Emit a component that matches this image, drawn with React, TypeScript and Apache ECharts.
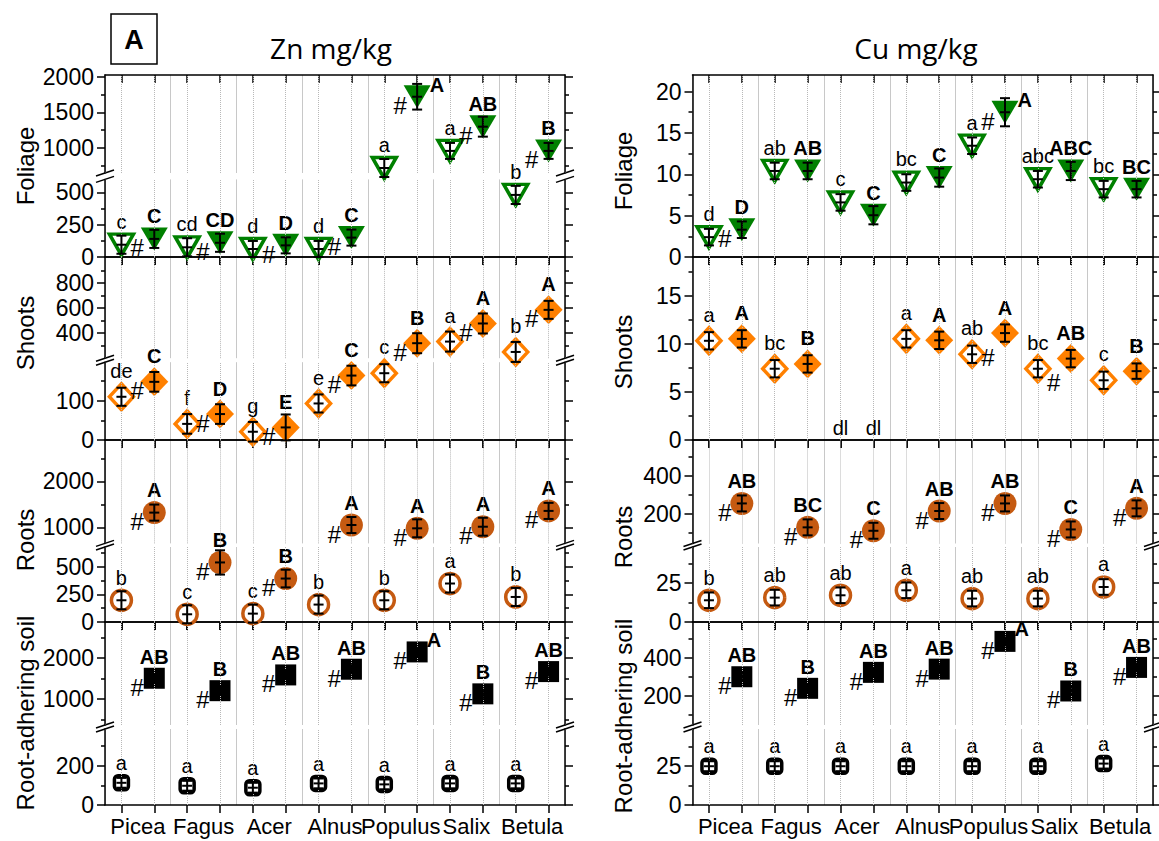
import React, { useEffect, useRef } from "react";
import * as echarts from "echarts";

// ---------------- DATA ----------------
const species = ["Picea", "Fagus", "Acer", "Alnus", "Populus", "Salix", "Betula"];

// Zn – Foliage
const znFoliageOpen = [95, 75, 62, 62, 720, 960, 480];
const znFoliageOpenErr = [70, 70, 62, 62, 126, 112, 70];
const znFoliageFilled = [140, 110, 90, 150, 1720, 1300, 960];
const znFoliageFilledErr = [70, 70, 62, 62, 180, 140, 112];
const znFoliageOpenLetters = ["c", "cd", "d", "d", "a", "a", "b"];
const znFoliageFilledLetters = ["C", "CD", "D", "C", "A", "AB", "B"];
const znFoliageHash = [true, true, true, true, true, true, true];
const znFoliageLowerRange = [0, 600];
const znFoliageLowerTicks = [0, 250, 500];
const znFoliageLowerMinor = [125, 375];
const znFoliageUpperRange = [650, 2025];
const znFoliageUpperTicks = [1000, 1500, 2000];
const znFoliageUpperMinor = [750, 1250, 1750];

// Zn – Shoots
const znShootsOpen = [110, 41, 21, 93, 170, 333, 250];
const znShootsOpenErr = [23, 25, 25, 23, 23, 80, 80];
const znShootsFilled = [148, 66, 32, 164, 320, 478, 587];
const znShootsFilledErr = [25, 25, 33, 25, 80, 80, 72];
const znShootsOpenLetters = ["de", "f", "g", "e", "c", "a", "b"];
const znShootsFilledLetters = ["C", "D", "E", "C", "B", "A", "A"];
const znShootsHash = [true, true, true, true, true, true, true];
const znShootsLowerRange = [0, 198];
const znShootsLowerTicks = [0, 100];
const znShootsLowerMinor = [50, 150];
const znShootsUpperRange = [200, 1010];
const znShootsUpperTicks = [400, 600, 800];
const znShootsUpperMinor = [300, 500, 700, 900];

// Zn – Roots
const znRootsOpen = [197, 70, 76, 158, 197, 349, 227];
const znRootsOpenErr = [82, 82, 82, 82, 82, 82, 82];
const znRootsFilled = [1320, 540, 394, 1050, 978, 1013, 1357];
const znRootsFilledErr = [175, 110, 80, 175, 195, 195, 175];
const znRootsOpenLetters = ["b", "c", "c", "b", "b", "a", "b"];
const znRootsFilledLetters = ["A", "B", "B", "A", "A", "A", "A"];
const znRootsHash = [true, true, true, true, true, true, true];
const znRootsLowerRange = [0, 680];
const znRootsLowerTicks = [0, 250, 500];
const znRootsLowerMinor = [125, 375, 625];
const znRootsUpperRange = [650, 2900];
const znRootsUpperTicks = [1000, 2000];
const znRootsUpperMinor = [1500, 2500];

// Zn – Root-adhering soil
const znSoilOpen = [113, 98, 88, 110, 105, 110, 110];
const znSoilOpenErr = [25, 25, 25, 25, 25, 25, 25];
const znSoilFilled = [1508, 1203, 1590, 1730, 2155, 1125, 1672];
const znSoilFilledErr = [100, 100, 100, 100, 100, 100, 100];
const znSoilOpenLetters = ["a", "a", "a", "a", "a", "a", "a"];
const znSoilFilledLetters = ["AB", "B", "AB", "AB", "A", "B", "AB"];
const znSoilHash = [true, true, true, true, true, true, true];
const znSoilLowerRange = [0, 387];
const znSoilLowerTicks = [0, 200];
const znSoilLowerMinor = [100, 300];
const znSoilUpperRange = [360, 2890];
const znSoilUpperTicks = [1000, 2000];
const znSoilUpperMinor = [500, 1500, 2500];

// Cu – Foliage
const cuFoliageOpen = [2.4, 10.4, 6.6, 9.0, 13.45, 9.4, 8.2];
const cuFoliageOpenErr = [1.0, 1.0, 1.0, 1.0, 1.0, 1.0, 1.0];
const cuFoliageFilled = [3.3, 10.4, 5.05, 9.6, 17.5, 10.4, 8.2];
const cuFoliageFilledErr = [1.0, 1.0, 1.1, 1.1, 1.7, 1.1, 1.0];
const cuFoliageOpenLetters = ["d", "ab", "c", "bc", "a", "abc", "bc"];
const cuFoliageFilledLetters = ["D", "AB", "C", "C", "A", "ABC", "BC"];
const cuFoliageHash = [true, false, false, false, true, false, false];
const cuFoliageRange = [0, 22];
const cuFoliageTicks = [0, 5, 10, 15, 20];
const cuFoliageMinor = [2.5, 7.5, 12.5, 17.5];

// Cu – Shoots (Acer below detection limit)
const cuShootsOpen = [10.3, 7.4, null, 10.5, 8.9, 7.4, 6.2];
const cuShootsOpenErr = [0.9, 0.9, 0, 0.9, 0.9, 0.9, 0.9];
const cuShootsFilled = [10.5, 7.9, null, 10.35, 11.1, 8.45, 7.15];
const cuShootsFilledErr = [0.9, 0.9, 0, 0.9, 0.9, 0.9, 0.8];
const cuShootsOpenLetters = ["a", "bc", "", "a", "ab", "bc", "c"];
const cuShootsFilledLetters = ["A", "B", "", "A", "A", "AB", "B"];
const cuShootsHash = [false, false, false, false, true, true, false];
const cuShootsBelowDl = [false, false, true, false, false, false, false];
const cuShootsRange = [0, 19];
const cuShootsTicks = [0, 5, 10, 15];
const cuShootsMinor = [2.5, 7.5, 12.5, 17.5];

// Cu – Roots
const cuRootsOpen = [13.9, 15.6, 17.1, 20.3, 15, 15, 22.4];
const cuRootsOpenErr = [5, 5, 5, 5, 5, 5, 5];
const cuRootsFilled = [256, 130, 112, 216, 256, 119, 230];
const cuRootsFilledErr = [42, 42, 42, 42, 42, 42, 42];
const cuRootsOpenLetters = ["b", "ab", "ab", "a", "ab", "ab", "a"];
const cuRootsFilledLetters = ["AB", "BC", "C", "AB", "AB", "C", "A"];
const cuRootsHash = [true, true, true, true, true, true, true];
const cuRootsLowerRange = [0, 48];
const cuRootsLowerTicks = [0, 25];
const cuRootsLowerMinor = [12.5, 37.5];
const cuRootsUpperRange = [45, 590];
const cuRootsUpperTicks = [200, 400];
const cuRootsUpperMinor = [100, 300, 500];

// Cu – Root-adhering soil
const cuSoilOpen = [25, 25, 25, 25, 25, 25, 26.7];
const cuSoilOpenErr = [3.2, 3.2, 3.2, 3.2, 3.2, 3.2, 3.2];
const cuSoilFilled = [300, 239, 323, 340, 486, 225, 349];
const cuSoilFilledErr = [21, 21, 21, 21, 21, 21, 21];
const cuSoilOpenLetters = ["a", "a", "a", "a", "a", "a", "a"];
const cuSoilFilledLetters = ["AB", "B", "AB", "AB", "A", "B", "AB"];
const cuSoilHash = [true, true, true, true, true, true, true];
const cuSoilLowerRange = [0, 49];
const cuSoilLowerTicks = [0, 25];
const cuSoilLowerMinor = [12.5, 37.5];
const cuSoilUpperRange = [46, 588];
const cuSoilUpperTicks = [200, 400];
const cuSoilUpperMinor = [100, 300, 500];

// ---------------- STYLE / LAYOUT ----------------
const FONT = "'Liberation Sans', Arial, Helvetica, sans-serif";
const GREEN = "#008000";
const ORANGE = "#FF8000";
const BROWN = "#C55A11";
const BLACK = "#000000";
const TRI_DOWN = "path://M0,0 L24,0 L12,21 Z";

const FOLIAGE_STYLE = { symbol: TRI_DOWN, filledSymbol: TRI_DOWN, openSize: [24, 21], filledSize: [27, 23], color: GREEN, openBorder: 3.5 };
const SHOOTS_STYLE = { symbol: "diamond", filledSymbol: "diamond", openSize: [24, 26], filledSize: [28, 29], color: ORANGE, openBorder: 3.5 };
const ROOTS_STYLE = { symbol: "circle", filledSymbol: "circle", openSize: [20, 20], filledSize: [23, 23], color: BROWN, openBorder: 3.5 };
const SOIL_STYLE = { symbol: "roundRect", filledSymbol: "rect", openSize: [14, 14], filledSize: [21, 21], color: BLACK, openBorder: 3.5 };

const PANEL_LAYOUT = [
  { left: 105, right: 565, nameX: 25, titleX: 331, nameY: [166, 333, 540, 713] },
  { left: 692.5, right: 1153, nameX: 623, titleX: 916, nameY: [171, 352, 537, 716] },
];
const ROW_Y = [
  [75, 257],
  [257, 440],
  [440, 622],
  [622, 805],
];
const BREAK_Y: (number[] | null)[][] = [
  [[173, 179.4], [358.2, 362.2], [543.4, 547], [725, 729]],
  [null, null, [543.5, 547], [725, 729]],
];

const seg = (range: number[], major: number[], minor: number[]) => ({ range, major, minor });

const PANELS = [
  {
    title: "Zn mg/kg",
    rows: [
      { name: "Foliage", ...FOLIAGE_STYLE, open: znFoliageOpen, openErr: znFoliageOpenErr, filled: znFoliageFilled, filledErr: znFoliageFilledErr,
        openLetters: znFoliageOpenLetters, filledLetters: znFoliageFilledLetters, hash: znFoliageHash,
        lower: seg(znFoliageLowerRange, znFoliageLowerTicks, znFoliageLowerMinor), upper: seg(znFoliageUpperRange, znFoliageUpperTicks, znFoliageUpperMinor) },
      { name: "Shoots", ...SHOOTS_STYLE, open: znShootsOpen, openErr: znShootsOpenErr, filled: znShootsFilled, filledErr: znShootsFilledErr,
        openLetters: znShootsOpenLetters, filledLetters: znShootsFilledLetters, hash: znShootsHash,
        lower: seg(znShootsLowerRange, znShootsLowerTicks, znShootsLowerMinor), upper: seg(znShootsUpperRange, znShootsUpperTicks, znShootsUpperMinor) },
      { name: "Roots", ...ROOTS_STYLE, open: znRootsOpen, openErr: znRootsOpenErr, filled: znRootsFilled, filledErr: znRootsFilledErr,
        openLetters: znRootsOpenLetters, filledLetters: znRootsFilledLetters, hash: znRootsHash,
        lower: seg(znRootsLowerRange, znRootsLowerTicks, znRootsLowerMinor), upper: seg(znRootsUpperRange, znRootsUpperTicks, znRootsUpperMinor) },
      { name: "Root-adhering soil", ...SOIL_STYLE, open: znSoilOpen, openErr: znSoilOpenErr, filled: znSoilFilled, filledErr: znSoilFilledErr,
        openLetters: znSoilOpenLetters, filledLetters: znSoilFilledLetters, hash: znSoilHash,
        lower: seg(znSoilLowerRange, znSoilLowerTicks, znSoilLowerMinor), upper: seg(znSoilUpperRange, znSoilUpperTicks, znSoilUpperMinor) },
    ],
  },
  {
    title: "Cu mg/kg",
    rows: [
      { name: "Foliage", ...FOLIAGE_STYLE, open: cuFoliageOpen, openErr: cuFoliageOpenErr, filled: cuFoliageFilled, filledErr: cuFoliageFilledErr,
        openLetters: cuFoliageOpenLetters, filledLetters: cuFoliageFilledLetters, hash: cuFoliageHash,
        lower: seg(cuFoliageRange, cuFoliageTicks, cuFoliageMinor) },
      { name: "Shoots", ...SHOOTS_STYLE, open: cuShootsOpen, openErr: cuShootsOpenErr, filled: cuShootsFilled, filledErr: cuShootsFilledErr,
        openLetters: cuShootsOpenLetters, filledLetters: cuShootsFilledLetters, hash: cuShootsHash, dl: cuShootsBelowDl, hashDy: 15,
        lower: seg(cuShootsRange, cuShootsTicks, cuShootsMinor) },
      { name: "Roots", ...ROOTS_STYLE, open: cuRootsOpen, openErr: cuRootsOpenErr, filled: cuRootsFilled, filledErr: cuRootsFilledErr,
        openLetters: cuRootsOpenLetters, filledLetters: cuRootsFilledLetters, hash: cuRootsHash,
        lower: seg(cuRootsLowerRange, cuRootsLowerTicks, cuRootsLowerMinor), upper: seg(cuRootsUpperRange, cuRootsUpperTicks, cuRootsUpperMinor) },
      { name: "Root-adhering soil", ...SOIL_STYLE, open: cuSoilOpen, openErr: cuSoilOpenErr, filled: cuSoilFilled, filledErr: cuSoilFilledErr,
        openLetters: cuSoilOpenLetters, filledLetters: cuSoilFilledLetters, hash: cuSoilHash,
        lower: seg(cuSoilLowerRange, cuSoilLowerTicks, cuSoilLowerMinor), upper: seg(cuSoilUpperRange, cuSoilUpperTicks, cuSoilUpperMinor) },
    ],
  },
];

// ---------------- OPTION BUILDING ----------------
function tickAxis(g: number, pos: string) {
  return {
    type: "category", gridIndex: g, position: pos, boundaryGap: true,
    data: species.flatMap((s) => [s + "-1", s + "-2"]),
    axisLine: { show: true, onZero: false, lineStyle: { color: "#000", width: 1.5 } },
    axisTick: { show: true, interval: 0, alignWithLabel: true, inside: pos === "top", length: 8, lineStyle: { color: "#000", width: 1.5 } },
    axisLabel: { show: false },
    splitLine: { show: false },
  };
}

function speciesAxis(g: number) {
  return {
    type: "category", gridIndex: g, position: "bottom", boundaryGap: true, data: species,
    axisLine: { show: false, onZero: false }, axisTick: { show: false }, splitLine: { show: false },
    axisLabel: { show: true, interval: 0, color: "#000", fontSize: 22, fontFamily: FONT, margin: 10 },
  };
}

function valueAxis(g: number, s: any, pos: string, vals: number[], len: number, line: boolean, labels: boolean) {
  return {
    type: "value", gridIndex: g, position: pos, min: s.range[0], max: s.range[1],
    axisLine: { show: line, onZero: false, lineStyle: { color: "#000", width: 1.5 } },
    axisTick: { show: true, customValues: vals, length: len, lineStyle: { color: "#000", width: 1.5 } },
    axisLabel: {
      show: labels, customValues: s.major, color: "#000", fontSize: 23, fontFamily: FONT, margin: 11,
      formatter: (v: number) => String(v),
    },
    splitLine: { show: false },
  };
}

function buildOption() {
  const grid: any[] = [];
  const xAxis: any[] = [];
  const yAxis: any[] = [];
  const series: any[] = [];
  const graphic: any[] = [];
  const centers = Array.from({ length: species.length * 2 }, (_, i) => i);

  graphic.push({ type: "rect", shape: { x: 111, y: 14, width: 46, height: 50 }, style: { fill: "#fff", stroke: "#000", lineWidth: 1.5 } });
  graphic.push({ type: "text", x: 134, y: 40, style: { text: "A", fontSize: 27, fontWeight: "bold", fontFamily: FONT, fill: "#000", align: "center", verticalAlign: "middle" } });

  PANELS.forEach((panel: any, pi) => {
    const lay = PANEL_LAYOUT[pi];
    graphic.push({ type: "text", x: lay.titleX, y: 48, style: { text: panel.title, fontSize: 28, fontFamily: "'Open Sans', sans-serif", fill: "#000", align: "center", verticalAlign: "middle" } });

    panel.rows.forEach((row: any, ri: number) => {
      const [rowTop, rowBottom] = ROW_Y[ri];
      const brk = BREAK_Y[pi][ri];
      const segs: any[] = row.upper && brk
        ? [{ ...row.lower, top: brk[1], bottom: rowBottom }, { ...row.upper, top: rowTop, bottom: brk[0] }]
        : [{ ...row.lower, top: rowTop, bottom: rowBottom }];
      const segOf = (v: number) => (segs.length > 1 && v > segs[0].range[1] ? 1 : 0);

      segs.forEach((s, si) => {
        const g = grid.length;
        const isTopSeg = si === segs.length - 1;
        grid.push({ left: lay.left, top: s.top, width: lay.right - lay.left, height: s.bottom - s.top });
        const xi = xAxis.length;
        xAxis.push({
          type: "value", gridIndex: g, min: -0.5, max: 13.5, interval: 2,
          axisLine: { show: false, onZero: false }, axisTick: { show: false }, axisLabel: { show: false },
          splitLine: { show: true, lineStyle: { color: "#c8c8c8", width: 1 } },
        });
        if (isTopSeg) xAxis.push(tickAxis(g, "top"));
        if (si === 0) xAxis.push(tickAxis(g, "bottom"));
        if (si === 0 && ri === panel.rows.length - 1) xAxis.push(speciesAxis(g));

        const yi = yAxis.length;
        yAxis.push(valueAxis(g, s, "left", s.major, 8, true, true));
        if (s.minor.length) yAxis.push(valueAxis(g, s, "left", s.minor, 4, false, false));
        yAxis.push(valueAxis(g, s, "right", s.major, 8, true, false));
        if (s.minor.length) yAxis.push(valueAxis(g, s, "right", s.minor, 4, false, false));

        const h = s.bottom - s.top;
        const span = s.range[1] - s.range[0];
        const lblPos = (v: number) =>
          isTopSeg && ((s.range[1] - v) / span) * h < 40
            ? { position: "right", distance: 1, offset: [-2, -12] }
            : { position: "top", distance: 1 };

        const openPts = row.open.map((v: any, k: number) => ({ k, v })).filter((o: any) => o.v != null && segOf(o.v) === si);
        const fillPts = row.filled.map((v: any, k: number) => ({ k, v })).filter((o: any) => o.v != null && segOf(o.v) === si);

        // dotted centre lines
        series.push({
          type: "scatter", xAxisIndex: xi, yAxisIndex: yi, silent: true, z: 1, symbolSize: 0,
          data: [[0, s.range[0]]],
          markLine: {
            silent: true, symbol: ["none", "none"], label: { show: false }, emphasis: { disabled: true },
            lineStyle: { type: "dotted", color: "#b8b8b8", width: 1 },
            data: centers.map((c) => ({ xAxis: c })),
          },
        });

        // open markers (control)
        series.push({
          type: "scatter", xAxisIndex: xi, yAxisIndex: yi, silent: true, z: 3, clip: false,
          symbol: row.symbol, symbolSize: row.openSize,
          itemStyle: { color: "#ffffff", borderColor: row.color, borderWidth: row.openBorder, opacity: 1 },
          label: { show: true, color: "#000", fontSize: 20, fontFamily: FONT },
          data: openPts.map((o: any) => ({ value: [2 * o.k, o.v], label: { formatter: row.openLetters[o.k], ...lblPos(o.v) } })),
        });

        // filled markers (treated)
        series.push({
          type: "scatter", xAxisIndex: xi, yAxisIndex: yi, silent: true, z: 3, clip: false,
          symbol: row.filledSymbol, symbolSize: row.filledSize,
          itemStyle: { color: row.color, opacity: 1 },
          label: { show: true, color: "#000", fontSize: 20, fontWeight: "bold", fontFamily: FONT },
          data: fillPts.map((o: any) => ({ value: [2 * o.k + 1, o.v], label: { formatter: row.filledLetters[o.k], ...lblPos(o.v) } })),
        });

        // "#" significance marks
        series.push({
          type: "scatter", xAxisIndex: xi, yAxisIndex: yi, silent: true, z: 6, clip: false, symbolSize: 0.5,
          itemStyle: { color: "#000", opacity: 1 },
          label: {
            show: true, formatter: "#", position: "inside", offset: [-17, 9 + (row.hashDy || 0)],
            color: "#000", textBorderWidth: 0, fontSize: 24, fontFamily: FONT,
          },
          data: fillPts.filter((o: any) => row.hash[o.k]).map((o: any) => [2 * o.k + 1, o.v]),
        });

        // detection limit
        if (row.dl && si === 0) {
          const dlPts: number[][] = [];
          row.dl.forEach((d: boolean, k: number) => { if (d) { dlPts.push([2 * k, 0]); dlPts.push([2 * k + 1, 0]); } });
          series.push({
            type: "scatter", xAxisIndex: xi, yAxisIndex: yi, silent: true, z: 6, clip: false, symbolSize: 0.5,
            itemStyle: { color: "#000", opacity: 1 },
            label: { show: true, formatter: "dl", position: "top", distance: 2, color: "#000", fontSize: 20, fontFamily: FONT },
            data: dlPts,
          });
        }

        // error bars
        const errData = [
          ...openPts.map((o: any) => [2 * o.k, o.v, row.openErr[o.k]]),
          ...fillPts.map((o: any) => [2 * o.k + 1, o.v, row.filledErr[o.k]]),
        ];
        series.push({
          type: "custom", xAxisIndex: xi, yAxisIndex: yi, silent: true, z: 5, clip: false,
          data: errData,
          renderItem: (params: any, api: any) => {
            const x = api.value(0);
            const v = api.value(1);
            const e = api.value(2);
            const c = api.coord([x, v]);
            const hi = api.coord([x, v + e]);
            const lo = api.coord([x, v - e]);
            const w = 5;
            const st = { stroke: "#000", lineWidth: 2 };
            return {
              type: "group",
              children: [
                { type: "line", shape: { x1: c[0], y1: hi[1], x2: c[0], y2: lo[1] }, style: st },
                { type: "line", shape: { x1: c[0] - w, y1: hi[1], x2: c[0] + w, y2: hi[1] }, style: st },
                { type: "line", shape: { x1: c[0] - w, y1: lo[1], x2: c[0] + w, y2: lo[1] }, style: st },
                { type: "line", shape: { x1: c[0] - w, y1: c[1], x2: c[0] + w, y2: c[1] }, style: st },
              ],
            };
          },
        });
      });

      // row name
      graphic.push({
        type: "text", x: lay.nameX, y: lay.nameY[ri], rotation: Math.PI / 2,
        style: { text: row.name, fontSize: 24, fontFamily: FONT, fill: "#000", align: "center", verticalAlign: "middle" },
      });

      // axis-break marks
      if (segs.length > 1 && brk) {
        [lay.left, lay.right].forEach((x) => {
          [brk[0], brk[1]].forEach((y) => {
            graphic.push({ type: "line", shape: { x1: x - 9, y1: y + 3, x2: x + 9, y2: y - 3 }, style: { stroke: "#000", lineWidth: 1.5 } });
          });
        });
      }
    });
  });

  return { animation: false, backgroundColor: "#ffffff", textStyle: { fontFamily: FONT }, grid, xAxis, yAxis, series, graphic };
}

export default function App() {
  const ref = useRef<HTMLDivElement>(null);
  useEffect(() => {
    const chart = echarts.init(ref.current as HTMLDivElement, null, { renderer: "svg" });
    chart.setOption(buildOption() as any);
    return () => chart.dispose();
  }, []);
  return <div ref={ref} style={{ position: "fixed", left: 0, top: 0, width: 1159, height: 841, background: "#fff" }} />;
}
